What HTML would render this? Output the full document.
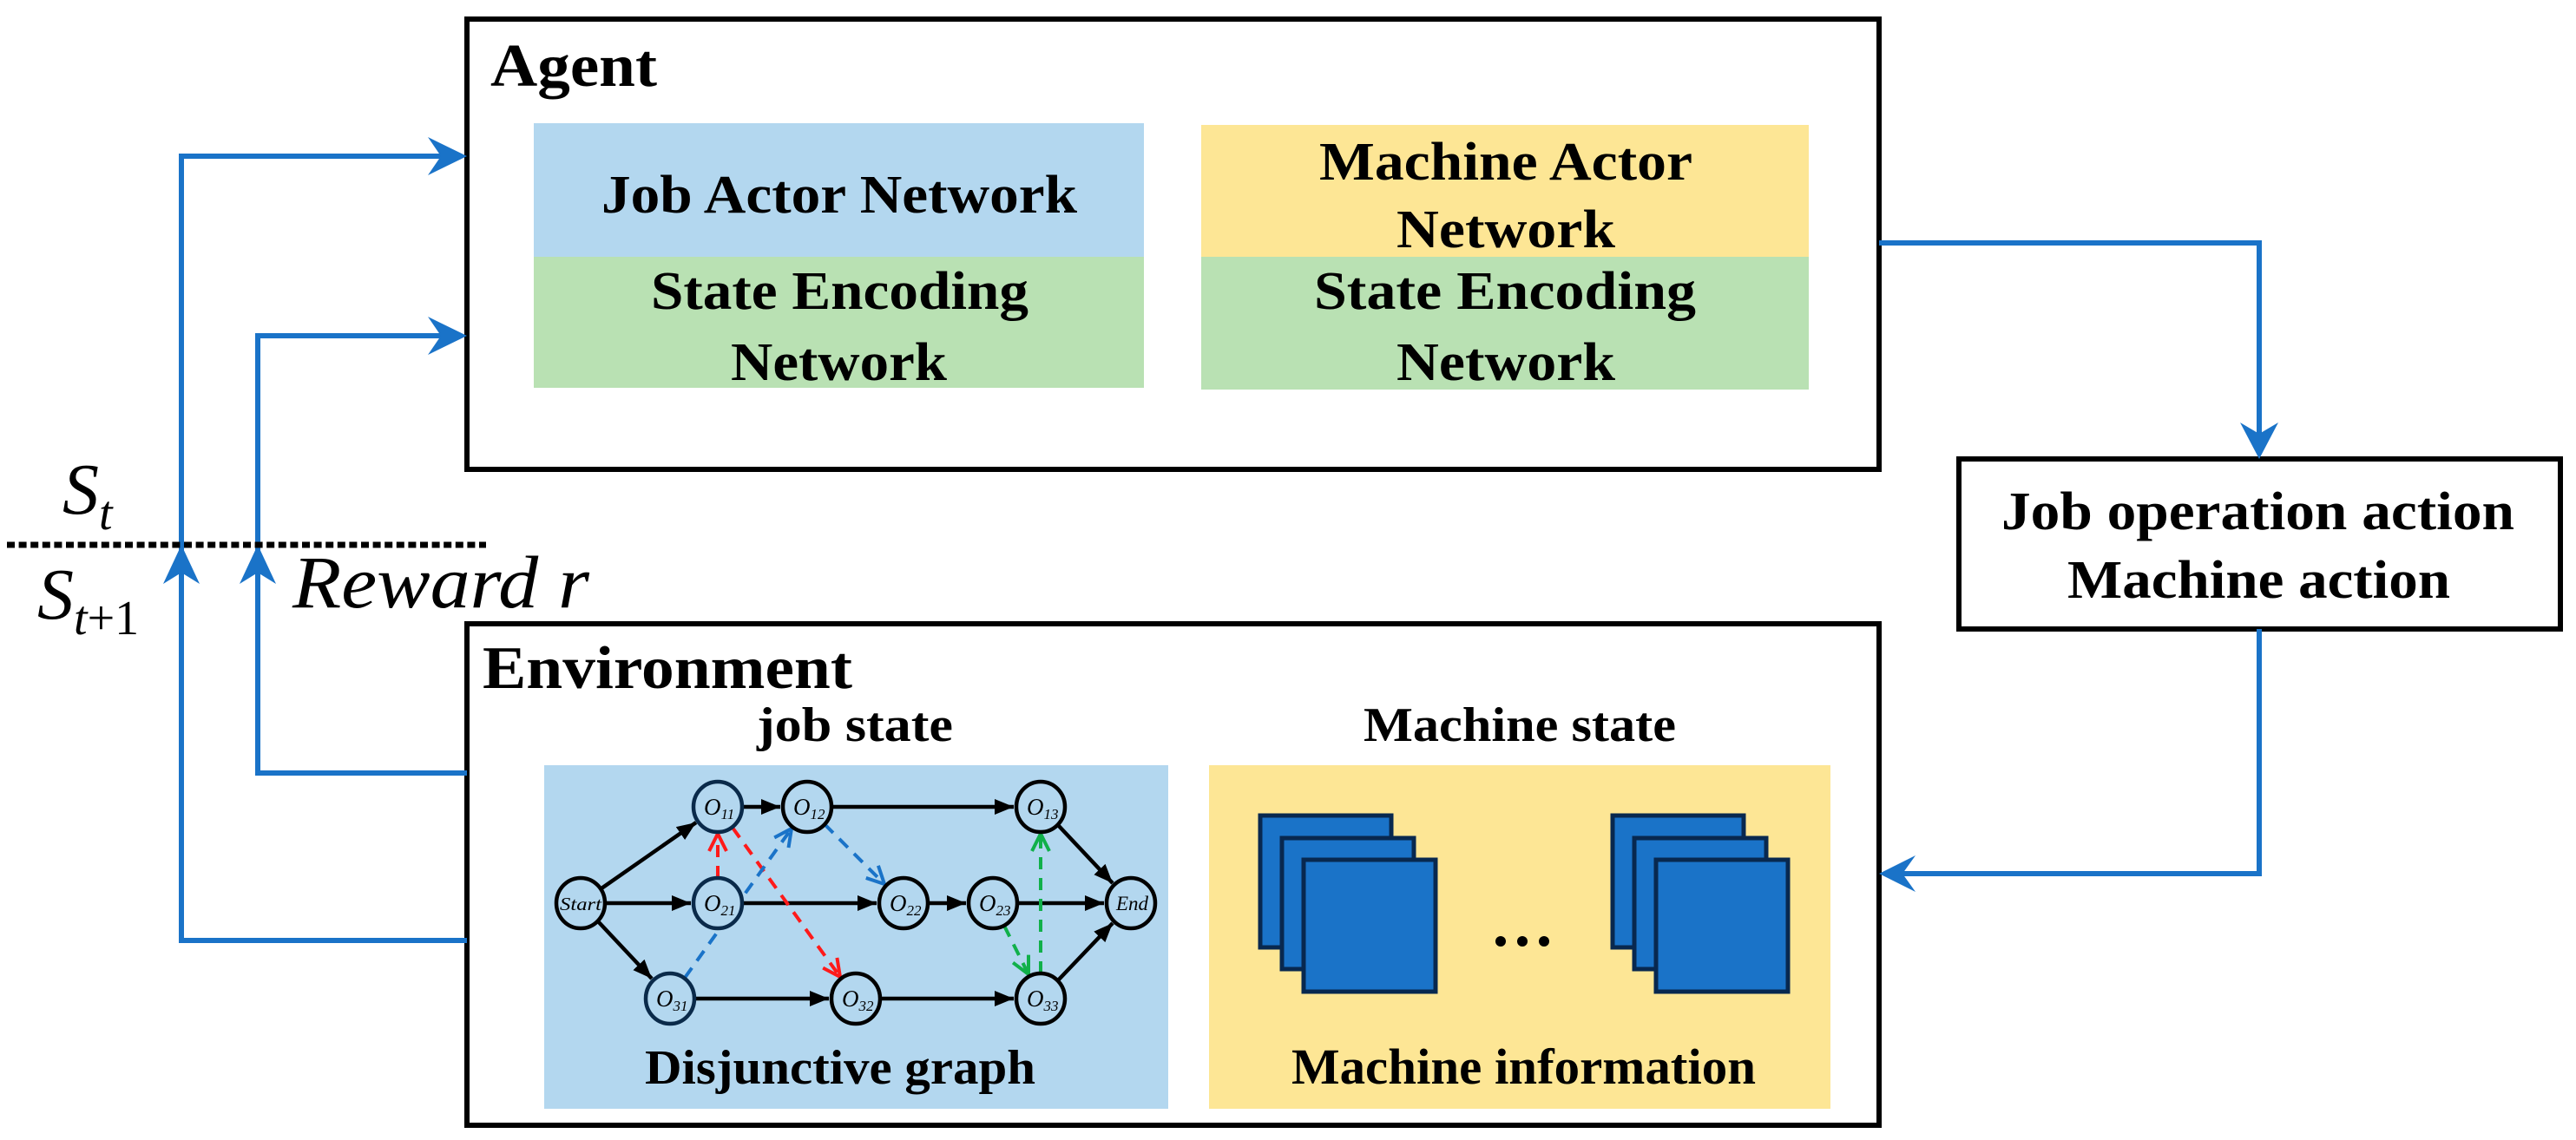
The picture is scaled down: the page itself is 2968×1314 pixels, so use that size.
<!DOCTYPE html>
<html><head><meta charset="utf-8"><style>html,body{margin:0;padding:0;background:#fff}svg{display:block}svg text{font-family:"Liberation Serif","Times New Roman",serif}</style></head>
<body>
<svg width="2968" height="1314" viewBox="0 0 2968 1314" xmlns="http://www.w3.org/2000/svg" font-family="'Liberation Serif', serif">
<defs>
<marker id="ab" markerUnits="userSpaceOnUse" markerWidth="26" markerHeight="22" refX="22" refY="9" orient="auto"><path d="M0,0 L22,9 L0,18 z" fill="#000"/></marker>
<marker id="vr" markerUnits="userSpaceOnUse" markerWidth="30" markerHeight="30" refX="22" refY="12" orient="auto"><path d="M2,2 L22,12 L2,22" fill="none" stroke="#ff1a1a" stroke-width="4"/></marker>
<marker id="vb" markerUnits="userSpaceOnUse" markerWidth="30" markerHeight="30" refX="22" refY="12" orient="auto"><path d="M2,2 L22,12 L2,22" fill="none" stroke="#1a73c8" stroke-width="4"/></marker>
<marker id="vg" markerUnits="userSpaceOnUse" markerWidth="30" markerHeight="30" refX="22" refY="12" orient="auto"><path d="M2,2 L22,12 L2,22" fill="none" stroke="#11b04a" stroke-width="4"/></marker>
</defs>

<rect x="538" y="22" width="1627" height="519" fill="#fff" stroke="#000" stroke-width="6"/>
<text x="565" y="99" font-size="70" font-weight="bold" textLength="192" lengthAdjust="spacingAndGlyphs">Agent</text>
<rect x="615" y="142" width="703" height="154" fill="#b3d7ef"/>
<rect x="615" y="296" width="703" height="151" fill="#b9e1b3"/>
<rect x="1384" y="144" width="700" height="152" fill="#fde695"/>
<rect x="1384" y="296" width="700" height="153" fill="#b9e1b3"/>
<g font-size="62" font-weight="bold">
<text x="693" y="245" textLength="548" lengthAdjust="spacingAndGlyphs">Job Actor Network</text>
<text x="750" y="356" textLength="435" lengthAdjust="spacingAndGlyphs">State Encoding</text>
<text x="842" y="438" textLength="249" lengthAdjust="spacingAndGlyphs">Network</text>
<text x="1520" y="207" textLength="430" lengthAdjust="spacingAndGlyphs">Machine Actor</text>
<text x="1609" y="285" textLength="252" lengthAdjust="spacingAndGlyphs">Network</text>
<text x="1514" y="356" textLength="440" lengthAdjust="spacingAndGlyphs">State Encoding</text>
<text x="1609" y="438" textLength="252" lengthAdjust="spacingAndGlyphs">Network</text>
</g>

<rect x="2257" y="529" width="693" height="196" fill="#fff" stroke="#000" stroke-width="6"/>
<g font-size="62" font-weight="bold">
<text x="2306" y="610" textLength="591" lengthAdjust="spacingAndGlyphs">Job operation action</text>
<text x="2382" y="689" textLength="441" lengthAdjust="spacingAndGlyphs">Machine action</text>
</g>

<rect x="538" y="719" width="1627" height="578" fill="#fff" stroke="#000" stroke-width="6"/>
<text x="556" y="793" font-size="70" font-weight="bold" textLength="426" lengthAdjust="spacingAndGlyphs">Environment</text>
<text x="872" y="854" font-size="56" font-weight="bold" textLength="226" lengthAdjust="spacingAndGlyphs">job state</text>
<text x="1571" y="854" font-size="56" font-weight="bold" textLength="360" lengthAdjust="spacingAndGlyphs">Machine state</text>
<rect x="627" y="882" width="719" height="396" fill="#b3d7ef"/>
<rect x="1393" y="882" width="716" height="396" fill="#fde695"/>
<text x="743" y="1249" font-size="56" font-weight="bold" textLength="450" lengthAdjust="spacingAndGlyphs">Disjunctive graph</text>
<text x="1488" y="1249" font-size="58" font-weight="bold" textLength="535" lengthAdjust="spacingAndGlyphs">Machine information</text>

<g fill="#1a73c8" stroke="#08284f" stroke-width="5">
<rect x="1452" y="940" width="151" height="152"/>
<rect x="1477" y="966" width="152" height="151"/>
<rect x="1502" y="991" width="152" height="152"/>
<rect x="1858" y="940" width="151" height="152"/>
<rect x="1883" y="966" width="152" height="151"/>
<rect x="1908" y="991" width="152" height="152"/>
</g>
<circle cx="1729" cy="1085" r="6"/><circle cx="1754" cy="1085" r="6"/><circle cx="1779" cy="1085" r="6"/>

<g stroke="#000" stroke-width="4.5" marker-end="url(#ab)">
<line x1="693" y1="1024" x2="802" y2="948"/>
<line x1="698" y1="1041" x2="796" y2="1041"/>
<line x1="689" y1="1062" x2="751" y2="1128"/>
<line x1="856" y1="930" x2="899" y2="930"/>
<line x1="959" y1="930" x2="1168" y2="930"/>
<line x1="856" y1="1041" x2="1010" y2="1041"/>
<line x1="1070" y1="1041" x2="1113" y2="1041"/>
<line x1="1173" y1="1041" x2="1272" y2="1041"/>
<line x1="1219" y1="951" x2="1282" y2="1018"/>
<line x1="801" y1="1151" x2="955" y2="1151"/>
<line x1="1015" y1="1151" x2="1168" y2="1151"/>
<line x1="1219" y1="1130" x2="1282" y2="1064"/>
</g>
<g stroke-width="4" stroke-dasharray="14 10" fill="none">
<line x1="827" y1="1012" x2="827" y2="961" stroke="#ff1a1a" marker-end="url(#vr)"/>
<line x1="844" y1="954" x2="968" y2="1126" stroke="#ff1a1a" marker-end="url(#vr)"/>
<line x1="789" y1="1127" x2="912" y2="955" stroke="#1a73c8" marker-end="url(#vb)"/>
<line x1="950" y1="950" x2="1019" y2="1019" stroke="#1a73c8" marker-end="url(#vb)"/>
<line x1="1157" y1="1067" x2="1185" y2="1123" stroke="#11b04a" marker-end="url(#vg)"/>
<line x1="1199" y1="1122" x2="1199" y2="961" stroke="#11b04a" marker-end="url(#vg)"/>
</g>
<g fill="#b3d7ef" stroke-width="4.5">
<ellipse cx="669" cy="1041" rx="28" ry="29" stroke="#000"/>
<ellipse cx="827" cy="930" rx="28" ry="29" stroke="#0a2a4a"/>
<ellipse cx="930" cy="930" rx="28" ry="29" stroke="#000"/>
<ellipse cx="1199" cy="930" rx="28" ry="29" stroke="#000"/>
<ellipse cx="827" cy="1041" rx="28" ry="29" stroke="#0a2a4a"/>
<ellipse cx="1041" cy="1041" rx="28" ry="29" stroke="#000"/>
<ellipse cx="1144" cy="1041" rx="28" ry="29" stroke="#000"/>
<ellipse cx="1303" cy="1041" rx="28" ry="29" stroke="#000"/>
<ellipse cx="772" cy="1151" rx="28" ry="29" stroke="#0a2a4a"/>
<ellipse cx="986" cy="1151" rx="28" ry="29" stroke="#000"/>
<ellipse cx="1199" cy="1151" rx="28" ry="29" stroke="#000"/>
</g>
<g font-size="27" font-style="italic" fill="#000">
<text x="645" y="1049" font-size="21" textLength="48" lengthAdjust="spacingAndGlyphs">Start</text>
<text x="1286" y="1049" font-size="23">End</text>
<text x="811" y="939">O<tspan font-size="17" dy="5">11</tspan></text>
<text x="914" y="939">O<tspan font-size="17" dy="5">12</tspan></text>
<text x="1183" y="939">O<tspan font-size="17" dy="5">13</tspan></text>
<text x="811" y="1050">O<tspan font-size="17" dy="5">21</tspan></text>
<text x="1025" y="1050">O<tspan font-size="17" dy="5">22</tspan></text>
<text x="1128" y="1050">O<tspan font-size="17" dy="5">23</tspan></text>
<text x="756" y="1160">O<tspan font-size="17" dy="5">31</tspan></text>
<text x="970" y="1160">O<tspan font-size="17" dy="5">32</tspan></text>
<text x="1183" y="1160">O<tspan font-size="17" dy="5">33</tspan></text>
</g>

<g stroke="#1a73c8" stroke-width="6" fill="none">
<polyline points="538,1084 209,1084 209,180 530,180"/>
<polyline points="538,891 297,891 297,387 530,387"/>
<polyline points="2165,280 2603,280 2603,522"/>
<polyline points="2603,725 2603,1007 2174,1007"/>
<line x1="209" y1="1084" x2="209" y2="640"/>
<line x1="297" y1="891" x2="297" y2="640"/>
</g>
<g fill="#1a73c8">
<path d="M538,180 L493,158 L508,180 L493,202 z"/>
<path d="M538,387 L493,365 L508,387 L493,409 z"/>
<path d="M2603,529 L2581,487 L2603,500 L2625,487 z"/>
<path d="M2165,1007 L2207,986 L2192,1007 L2207,1028 z"/>
<path d="M209,628 L188,673 L209,660 L230,673 z"/>
<path d="M297,628 L276,673 L297,660 L318,673 z"/>
</g>

<line x1="8" y1="628" x2="560" y2="628" stroke="#000" stroke-width="7" stroke-dasharray="9 4.6"/>
<text x="72" y="592" font-size="84" font-style="italic">S<tspan font-size="56" dy="18">t</tspan></text>
<text x="43" y="713" font-size="84" font-style="italic">S<tspan font-size="56" dy="18">t</tspan><tspan font-size="56" font-style="normal">+1</tspan></text>
<text x="337" y="700" font-size="86" font-style="italic" textLength="342" lengthAdjust="spacingAndGlyphs">Reward r</text>
</svg>
</body></html>
